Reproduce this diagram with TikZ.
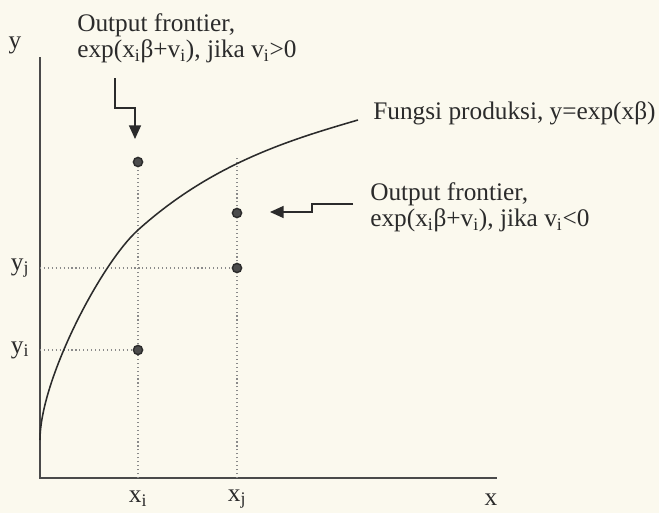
\documentclass[tikz,border=0pt]{standalone}
\usepackage{fontspec}
\setmainfont{Liberation Serif}
\usepackage{xcolor}
\usepackage{tikz}
\usetikzlibrary{arrows.meta}
\definecolor{paperx}{HTML}{FBF9EE}
\definecolor{inkx}{HTML}{2B2B2B}
\definecolor{axisx}{HTML}{4A4A4A}
\definecolor{dotx}{HTML}{8A8A8A}
\tikzset{
  ar/.style={-{Triangle[length=3.4mm,width=3mm]},line width=1pt,inkx},
  ax/.style={line width=0.9pt,axisx},
  gd/.style={dotx,dotted,line width=0.8pt},
  cur/.style={line width=1.1pt,inkx},
  obs/.style={circle,draw=inkx,fill=gray!60!black,line width=1pt,minimum size=2.3mm,inner sep=0pt},
  lab/.style={font=\fontsize{18}{19}\selectfont,text=inkx,inner sep=0pt,align=left}
}

\begin{document}
\begin{tikzpicture}[x=0.25mm,y=0.25mm]
\fill[paperx] (0,0) rectangle (659,513);
\useasboundingbox (0,0) rectangle (659,513);
% axes
\coordinate (O) at (40,35);
\coordinate (ytop) at (40,456);
\coordinate (xend) at (497,35);
\draw[ax] (ytop) -- (O) -- (xend);
\node[lab] (ylab) at (15,468) {y};
\node[lab] (xlab) at (491,13) {x};
% guide lines
\coordinate (fi) at (138,35);
\coordinate (fj) at (237,35);
\coordinate (gi) at (40,163);
\coordinate (gj) at (40,245);
\coordinate (cj) at (237,355);
\coordinate (pia) at (138,351);
\draw[gd] (fi) -- (pia);
\draw[gd] (fj) -- (cj);
\draw[gd] (gi) -- (138,163);
\draw[gd] (gj) -- (237,245);
% production function
\draw[cur] (40,73) .. controls (40,133) and (100.9,249.5) .. (138,283)
  .. controls (212.3,349.9) and (290.8,373.4) .. (358,393);
% observations
\node[obs] (pi) at (138,163) {};
\node[obs] (pj) at (237,245) {};
\node[obs] (pa) at (pia) {};
\node[obs] (pb) at (237,300) {};
% tick labels
\node[lab] (xi) at (138,14) {x\textsubscript{i}};
\node[lab] (xj) at (237,14) {x\textsubscript{j}};
\node[lab] (yj) at (20,245) {y\textsubscript{j}};
\node[lab] (yi) at (20,163) {y\textsubscript{i}};
% texts
\node[lab,anchor=north west] (fa) at (77,500) {Output frontier,\\exp(x\textsubscript{i}β+v\textsubscript{i}), jika v\textsubscript{i}>0};
\node[lab,anchor=north west] (fb) at (370,331) {Output frontier,\\exp(x\textsubscript{i}β+v\textsubscript{i}), jika v\textsubscript{i}<0};
\node[lab,anchor=base west] (fp) at (373,394) {Fungsi produksi, y=exp(xβ)};
% arrows
\coordinate (a1) at (115,435);
\draw[ar] (a1) -- ++(0,-30) -- ++(20,0) -- ++(0,-31);
\coordinate (a2) at (353,309);
\draw[ar] (a2) -- ++(-41,0) -- ++(0,-8) -- ++(-42,0);
\end{tikzpicture}
\end{document}
